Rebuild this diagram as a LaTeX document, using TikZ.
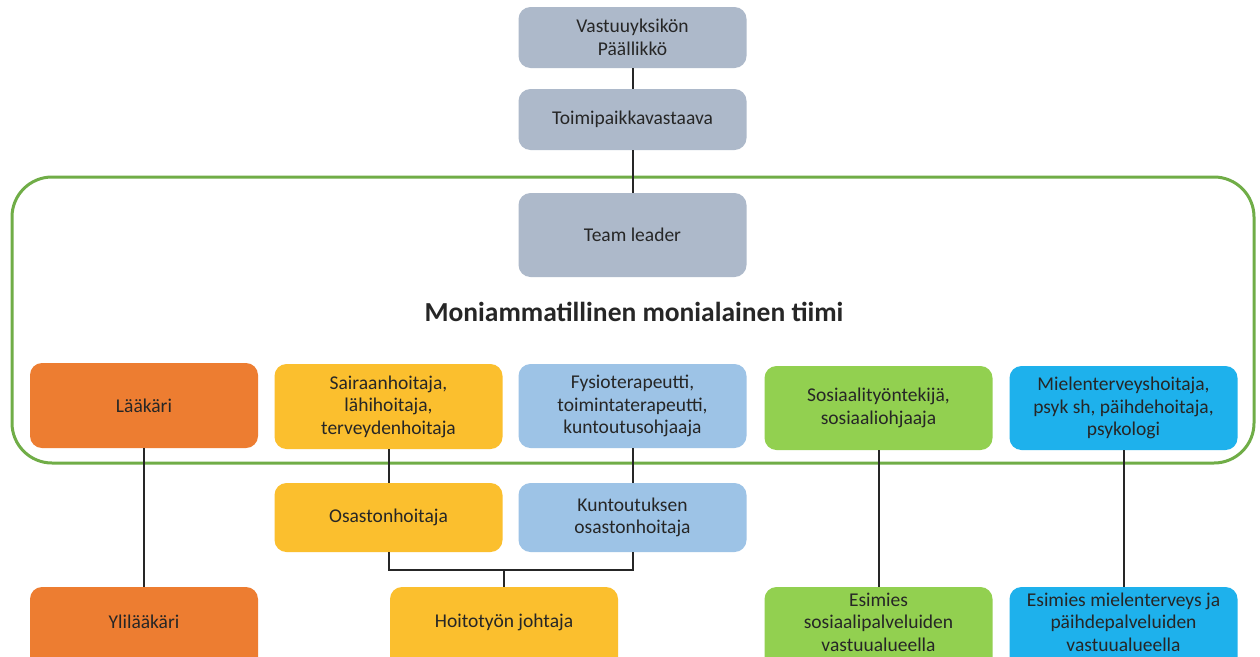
\documentclass[tikz,border=0pt]{standalone}
\usepackage{fontspec}
\setmainfont{Carlito}
\begin{document}
\begin{tikzpicture}[x=1pt,y=-1pt,
  box/.style={rounded corners=12pt, minimum width=228pt, inner sep=0pt, align=center,
    font=\fontsize{19.5}{22.5}\selectfont, text=txt},
  lbl/.style={align=center, inner sep=0pt, font=\fontsize{19.5}{22.5}\selectfont, text=txt},
  con/.style={line width=2pt, draw=black!85}]
\definecolor{txt}{HTML}{262626}
\definecolor{gray1}{HTML}{ADB9CA}
\definecolor{orange1}{HTML}{ED7D31}
\definecolor{yellow1}{HTML}{FBBF2E}
\definecolor{blue1}{HTML}{9DC3E6}
\definecolor{green1}{HTML}{92D050}
\definecolor{cyan1}{HTML}{1EB1EC}
\definecolor{frame1}{HTML}{70AD47}
\useasboundingbox (0,0) rectangle (1260,656);
\fill[white] (0,0) rectangle (1260,656);
% team frame
\draw[frame1, line width=3pt, rounded corners=40pt] (12,177) rectangle (1254,463);
% nodes
\node[box, fill=gray1, minimum height=61pt] (vp) at (632.5,37.5) {Vastuuyksikön\\Päällikkö};
\node[box, fill=gray1, minimum height=61pt] (tp) at (632.5,119.5) {Toimipaikkavastaava};
\node[box, fill=gray1, minimum height=84pt] (tl) at (632.5,235) {Team leader};
\node[font=\bfseries\fontsize{27.5}{32}\selectfont, text=txt] (title) at (634,312) {Moniammatillinen monialainen tiimi};
\node[box, fill=orange1, minimum height=85pt] (la) at (144,405.5) {Lääkäri};
\node[box, fill=yellow1, minimum height=85pt] (sh) at (388.5,406.5) {Sairaanhoitaja,\\lähihoitaja,\\terveydenhoitaja};
\node[box, fill=blue1, minimum height=84pt] (fy) at (632.5,406) {Fysioterapeutti,\\toimintaterapeutti,\\kuntoutusohjaaja};
\node[box, fill=green1, minimum height=84pt] (so) at (878.5,408) {Sosiaalityöntekijä,\\sosiaaliohjaaja};
\node[box, fill=cyan1, minimum height=84pt] (mi) at (1123.5,408) {Mielenterveyshoitaja,\\psyk sh, päihdehoitaja,\\psykologi};
\node[box, fill=yellow1, minimum height=69pt] (os) at (388.5,517.5) {Osastonhoitaja};
\node[box, fill=blue1, minimum height=69pt] (ko) at (632.5,517.5) {Kuntoutuksen\\osastonhoitaja};
% bottom row (extends below the page edge)
\node[box, fill=orange1, minimum height=82pt] (yl) at (144,628) {};
\node[box, fill=yellow1, minimum height=82pt] (ho) at (504,628) {};
\node[box, fill=green1, minimum height=82pt] (es) at (878.5,628) {};
\node[box, fill=cyan1, minimum height=82pt] (em) at (1123.5,628) {};
\node[lbl] (ylt) at (144,622) {Ylilääkäri};
\node[lbl] (hot) at (504,622) {Hoitotyön johtaja};
\node[lbl] (est) at (878.5,622) {Esimies\\sosiaalipalveluiden\\vastuualueella};
\node[lbl] (emt) at (1123.5,622) {Esimies mielenterveys ja\\päihdepalveluiden\\vastuualueella};
% connectors
\draw[con] (vp) -- (tp);
\draw[con] (tp) -- (tl);
\draw[con] (la) -- (yl);
\draw[con] (sh) -- (os);
\draw[con] (fy) -- (ko);
\draw[con] (so) -- (es);
\draw[con] (mi) -- (em);
\coordinate (mid) at (504,570);
\draw[con] (os.south) |- (mid) -| (ko.south);
\draw[con] (mid) -- (ho.north);
\end{tikzpicture}
\end{document}
